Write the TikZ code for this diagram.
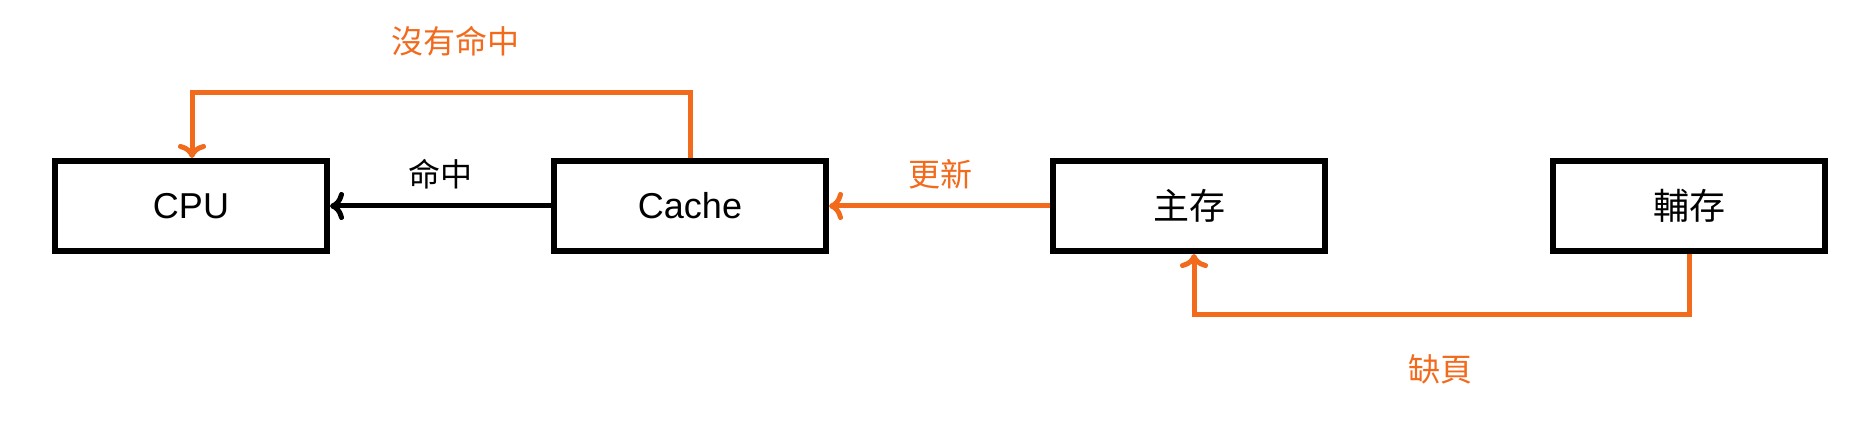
\documentclass[tikz,border=0pt]{standalone}
\usepackage{fontspec}
\setmainfont{Liberation Sans}
\newfontfamily\cjk{Noto Sans CJK TC}
\usetikzlibrary{arrows.meta}
\definecolor{org}{HTML}{F26B1D}
\begin{document}
\begin{tikzpicture}[x=1pt,y=-1pt,
 box/.style={draw=black,line width=6pt,minimum width=272pt,minimum height=90pt,inner sep=0pt,font=\fontsize{36}{40}\selectfont},
 lab/.style={font=\cjk\fontsize{32}{36}\selectfont},
 con/.style={line width=5pt,-{To[length=14pt,width=28pt,line width=5pt]}}]
\useasboundingbox (0,0) rectangle (1854,438);
\node[box] (cpu) at (191,206) {CPU};
\node[box] (cache) at (690,206) {Cache};
\node[box] (main) at (1189,206) {\cjk 主存};
\node[box] (aux) at (1689,206) {\cjk 輔存};
\coordinate (t1) at (690,93);
\coordinate (t2) at (192,93);
\coordinate (b1) at (1689,314);
\coordinate (b2) at (1194,314);
\draw[con,org] (cache.north) -- (t1) -- (t2) -- (cpu.north -| t2);
\draw[con,black] (cache.west) -- (cpu.east);
\draw[con,org] (main.west) -- (cache.east);
\draw[con,org] (aux.south -| b1) -- (b1) -- (b2) -- (main.south -| b2);
\node[lab,text=org] (l1) at (455,41) {沒有命中};
\node[lab] (l2) at (440,174) {命中};
\node[lab,text=org] (l3) at (940,174) {更新};
\node[lab,text=org] (l4) at (1440,369) {缺頁};
\end{tikzpicture}
\end{document}
